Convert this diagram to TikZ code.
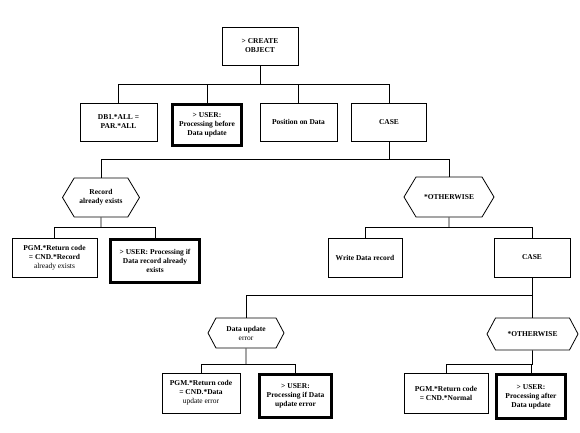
\documentclass[tikz,border=0pt]{standalone}
\usepackage{fontspec}
\setmainfont{Liberation Serif}
\usepackage{tikz}
\usetikzlibrary{positioning, shapes.symbols}

\tikzset{
  txt/.style = {font=\bfseries\fontsize{7.5}{9}\selectfont, align=center, inner sep=1bp},
  plainbox/.style = {txt, draw, line width=0.8bp, minimum height=38bp},
  userbox/.style = {txt, draw, line width=3.2bp},
  hexbox/.style = {txt, draw, line width=0.8bp, shape=signal, signal to=east and west,
                   signal pointer angle=118},
  wire/.style = {line width=0.8bp}
}
\newcommand{\lite}[1]{{\mdseries #1}}

\begin{document}
\begin{tikzpicture}[x=1bp, y=-1bp]
\useasboundingbox (0, 0) rectangle (580, 433);
% top
\node [plainbox, minimum width=76bp] (create) at (260, 46) {> CREATE\\OBJECT};
\node [plainbox, minimum width=77bp] (db) at (118.5, 122) {DB1.*ALL =\\PAR.*ALL};
\node [userbox, minimum width=69bp, minimum height=41bp] (user1) at (207, 125) {> USER:\\Processing before\\Data update};
\node [plainbox, minimum width=77bp] (pos) at (298.5, 122) {Position on Data};
\node [plainbox, minimum width=75bp] (case1) at (389, 122) {CASE};
% first case
\node [hexbox, minimum width=77bp, minimum height=39bp] (hex1) at (101, 197.5) {Record\\already exists};
\node [hexbox, minimum width=90bp, minimum height=40bp] (hex2) at (449, 197) {*OTHERWISE};
\node [plainbox, minimum width=85bp, minimum height=39bp] (pgm1) at (54.5, 257.5) {PGM.*Return code\\= CND.*Record\\\lite{already exists}};
\node [userbox, minimum width=89bp, minimum height=43bp] (user2) at (155, 261) {> USER: Processing if\\Data record already\\exists};
\node [plainbox, minimum width=74bp, minimum height=39bp] (write) at (365, 257.5) {Write Data record};
\node [plainbox, minimum width=76bp, minimum height=39bp] (case2) at (532, 257.5) {CASE};
% second case
\node [hexbox, minimum width=76bp, minimum height=30bp, signal pointer angle=124] (hex3) at (246, 333) {Data update\\\lite{error}};
\node [hexbox, minimum width=91bp, minimum height=32bp, signal pointer angle=124] (hex4) at (532.5, 334) {*OTHERWISE};
\node [plainbox, minimum width=78bp, minimum height=40bp] (pgm3) at (201, 393) {PGM.*Return code\\= CND.*Data\\\lite{update error}};
\node [userbox, minimum width=72bp, minimum height=43bp] (user3) at (295.5, 396) {> USER:\\Processing if Data\\update error};
\node [plainbox, minimum width=84bp, minimum height=40bp] (pgm4) at (446, 393) {PGM.*Return code\\= CND.*Normal};
\node [userbox, minimum width=69bp, minimum height=44bp] (user4) at (531, 396.5) {> USER:\\Processing after\\Data update};

% connectors
\coordinate (bus1) at (260, 84);
\draw [wire] (create) -- (bus1);
\foreach \c in {db, user1, pos, case1}
  \draw [wire] (bus1) -| (\c.north);
\coordinate (bus2) at (389, 159);
\draw [wire] (case1) -- (bus2);
\foreach \c in {hex1, hex2}
  \draw [wire] (bus2) -| (\c.north);
\coordinate (bus3) at (101, 227);
\draw [wire] (hex1) -- (bus3);
\foreach \c in {pgm1, user2}
  \draw [wire] (bus3) -| (\c.north);
\coordinate (bus4) at (449, 227);
\draw [wire] (hex2) -- (bus4);
\foreach \c in {write, case2}
  \draw [wire] (bus4) -| (\c.north);
\coordinate (bus5) at (532, 295);
\draw [wire] (case2) -- (bus5);
\foreach \c in {hex3, hex4}
  \draw [wire] (bus5) -| (\c.north);
\coordinate (bus6) at (246, 364);
\draw [wire] (hex3) -- (bus6);
\foreach \c in {pgm3, user3}
  \draw [wire] (bus6) -| (\c.north);
\coordinate (bus7) at (532.5, 364);
\draw [wire] (hex4) -- (bus7);
\foreach \c in {pgm4, user4}
  \draw [wire] (bus7) -| (\c.north);
\end{tikzpicture}
\end{document}
